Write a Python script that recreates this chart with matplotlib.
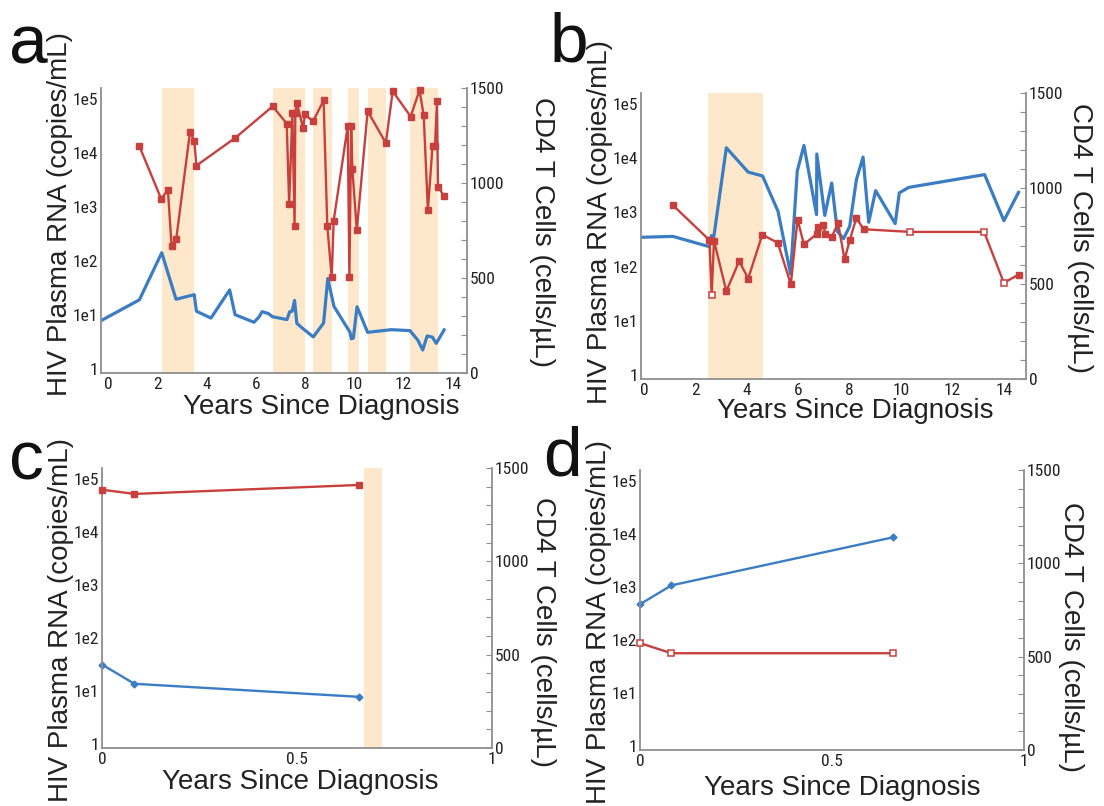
import os
import matplotlib
matplotlib.use("Agg")
import matplotlib.pyplot as plt
from matplotlib import font_manager as fm
from matplotlib.ticker import FixedLocator, FixedFormatter, MultipleLocator, NullLocator

plt.rcParams['font.family'] = ['Liberation Sans', 'DejaVu Sans']

RED = "#C8403D"
BLUE = "#3B7DC4"
SHADE = "#FDE8CB"
GREY = "#8F8F8F"

# ---------------- Panel a ----------------
a_rna_years = [1.25, 2.15, 2.42, 2.57, 2.76, 3.32, 3.49, 3.58, 5.15, 6.68,
               7.25, 7.35, 7.48, 7.57, 7.60, 7.66, 7.92, 7.99, 8.32, 8.75,
               8.90, 9.08, 9.16, 9.73, 9.80, 9.87, 9.92, 10.10, 10.54, 11.28,
               11.56, 12.29, 12.65, 12.82, 12.99, 13.18, 13.28, 13.36, 13.40, 13.65]
a_rna = [13800, 1410, 2090, 190, 257, 25100, 17000, 5890, 19100, 74100,
         35500, 1150, 55000, 447, 55000, 87100, 28800, 52500, 38900, 95500,
         447, 50, 562, 31600, 50, 31600, 5010, 372, 60300, 15500,
         141000, 47900, 148000, 50100, 891, 13800, 13800, 91200, 2400, 1580]
a_cd4_years = [-0.35, 1.26, 2.17, 2.75, 3.49, 3.58, 4.17, 4.93, 5.15, 5.92,
               6.13, 6.25, 6.50, 6.68, 7.26, 7.37, 7.47, 7.57, 7.66, 7.85,
               8.33, 8.75, 8.92, 9.17, 9.82, 9.88, 9.96, 10.11, 10.54, 11.50,
               12.26, 12.58, 12.78, 12.96, 13.17, 13.33, 13.65]
a_cd4 = [272, 385, 633, 388, 412, 325, 289, 437, 307, 267,
         296, 323, 313, 296, 281, 322, 325, 382, 262, 240,
         190, 263, 498, 351, 215, 180, 184, 349, 214, 228,
         223, 173, 121, 195, 189, 156, 227]
a_shade_start = [2.18, 6.70, 8.32, 9.76, 10.55, 12.28]
a_shade_end = [3.50, 8.00, 9.08, 10.18, 11.28, 13.39]
a_hollow = [False] * len(a_rna)

# ---------------- Panel b ----------------
b_rna_years = [1.13, 2.54, 2.63, 2.72, 3.20, 3.70, 4.05, 4.60, 5.20, 5.71,
               5.97, 6.22, 6.71, 6.75, 6.98, 7.05, 7.30, 7.55, 7.80, 8.01,
               8.26, 8.54, 10.36, 13.23, 14.00, 14.57]
b_rna = [1350, 309, 30, 302, 35, 126, 60, 389, 275, 47,
         741, 257, 398, 537, 575, 398, 355, 631, 135, 316,
         794, 490, 437, 437, 50, 71]
b_hollow = [False, False, True, False, False, False, False, False, False, False,
            False, False, False, False, False, False, False, False, False, False,
            False, False, True, True, True, False]
b_cd4_years = [-0.15, 1.12, 2.54, 2.62, 2.67, 2.72, 3.20, 4.05, 4.61, 5.21,
               5.70, 5.96, 6.22, 6.71, 6.72, 7.03, 7.30, 7.52, 7.76, 8.00,
               8.26, 8.52, 8.74, 9.01, 9.77, 9.93, 10.30, 13.25, 14.00, 14.57]
b_cd4 = [743, 748, 694, 752, 718, 752, 1213, 1085, 1065, 880,
         550, 1091, 1225, 862, 1180, 858, 1028, 774, 736, 801,
         1045, 1164, 822, 988, 815, 976, 1005, 1072, 830, 979]
b_shade_start = [2.50]
b_shade_end = [4.62]

# ---------------- Panel c ----------------
c_rna_years = [0.0, 0.083, 0.66]
c_rna = [63100, 52500, 77600]
c_hollow = [False, False, False]
c_cd4_years = [0.0, 0.083, 0.66]
c_cd4 = [447, 344, 274]
c_shade_start = [0.671]
c_shade_end = [0.719]

# ---------------- Panel d ----------------
d_rna_years = [0.0, 0.082, 0.66]
d_rna = [87, 56, 56]
d_hollow = [True, True, True]
d_cd4_years = [0.0, 0.082, 0.66]
d_cd4 = [781, 882, 1140]
d_shade_start = []
d_shade_end = []

long_xticks = [0, 2, 4, 6, 8, 10, 12, 14]
long_xticklabels = ["0", "2", "4", "6", "8", "10", "12", "14"]
short_xticks = [0, 0.5, 1]
short_xticklabels = ["0", "0.5", "1"]
rna_ticks = [1, 10, 100, 1000, 10000, 100000]
rna_ticklabels = ["1", "1e1", "1e2", "1e3", "1e4", "1e5"]
cd4_ticks = [0, 500, 1000, 1500]
cd4_ticklabels = ["0", "500", "1000", "1500"]

W, H = 1104, 806
fig = plt.figure(figsize=(W / 100, H / 100), dpi=100)

LABEL_FS = 20
TICK_FS = 12.5
LETTER_FS = 50


def narrow_font_path():
    wanted = ['liberationsansnarrow-regular', 'arialn', 'robotocondensed-regular',
              'roboto_condensed-regular', 'dejavusanscondensed.', 'notosans-condensed.',
              'notosans-semicondensed.', 'opensans_condensed-regular',
              'opensans-condensedregular', 'opensans_semicondensed-regular']
    try:
        paths = fm.findSystemFonts()
    except Exception:
        paths = []
    paths += [f.fname for f in fm.fontManager.ttflist]
    low = [(os.path.basename(p).lower(), p) for p in paths]
    for w in wanted:
        for b, p in low:
            if b.startswith(w):
                return p
    return None


NARROW = narrow_font_path()


def tick_props():
    if NARROW:
        return fm.FontProperties(fname=NARROW, size=TICK_FS)
    return fm.FontProperties(family=['Liberation Sans', 'DejaVu Sans'], size=TICK_FS - 1)


def px_rect(left, top, right, bottom):
    return [left / W, 1 - bottom / H, (right - left) / W, (bottom - top) / H]


def panel(rect, xlim, xticks, xticklabels, rna_x, rna_y, hollow, cd4_x, cd4_y,
          sh0, sh1, short, letter, letter_xy, ylab_xy, rlab_xy, xlab_xy):
    ax = fig.add_axes(px_rect(*rect))
    ax2 = ax.twinx()
    ax.set_zorder(ax2.get_zorder() + 1)
    ax.patch.set_visible(False)

    for s, e in zip(sh0, sh1):
        ax2.axvspan(s, e, color=SHADE, lw=0, zorder=0)

    lw_b = 1.7 if short else 2.3
    lw_r = 1.7
    if short:
        ax2.plot(cd4_x, cd4_y, color=BLUE, lw=lw_b, marker='D', ms=3.5,
                 zorder=3, clip_on=False)
    else:
        ax2.plot(cd4_x, cd4_y, color=BLUE, lw=lw_b, zorder=3)

    ax.plot(rna_x, rna_y, color=RED, lw=lw_r, zorder=3, clip_on=False)
    fx = [x for x, h in zip(rna_x, hollow) if not h]
    fy = [y for y, h in zip(rna_y, hollow) if not h]
    hx = [x for x, h in zip(rna_x, hollow) if h]
    hy = [y for y, h in zip(rna_y, hollow) if h]
    ms = 5.0
    if fx:
        ax.plot(fx, fy, ls='none', marker='s', ms=ms, mfc=RED, mec=RED,
                zorder=4, clip_on=False)
    if hx:
        ax.plot(hx, hy, ls='none', marker='s', ms=ms - 0.5, mfc='white', mec=RED,
                mew=1.1, zorder=4, clip_on=False)

    ax.set_xlim(*xlim)
    ax.set_yscale('log')
    ax.set_ylim(10 ** -0.08, 10 ** 5.21)
    ax2.set_ylim(0, 1500)

    ax.xaxis.set_major_locator(FixedLocator(xticks))
    ax.xaxis.set_major_formatter(FixedFormatter(xticklabels))
    ax.yaxis.set_major_locator(FixedLocator(rna_ticks))
    ax.yaxis.set_major_formatter(FixedFormatter(rna_ticklabels))
    ax.yaxis.set_minor_locator(NullLocator())
    ax2.yaxis.set_major_locator(FixedLocator(cd4_ticks))
    ax2.yaxis.set_major_formatter(FixedFormatter(cd4_ticklabels))
    ax2.yaxis.set_minor_locator(MultipleLocator(100))

    ax.tick_params(axis='both', which='both', length=0, pad=2, labelcolor='#222222')
    ax.tick_params(axis='x', pad=3)
    ax2.tick_params(axis='y', which='both', direction='in', length=4, width=0.8,
                    color=GREY, pad=2, labelcolor='#222222')
    for t in ax.get_xticklabels() + ax.get_yticklabels() + ax2.get_yticklabels():
        t.set_fontproperties(tick_props())

    for sp in ['top', 'right']:
        ax.spines[sp].set_visible(False)
    for sp in ['top', 'left', 'bottom']:
        ax2.spines[sp].set_visible(False)
    for sp in ['left', 'bottom']:
        ax.spines[sp].set_color(GREY)
        ax.spines[sp].set_linewidth(1.3)
    ax2.spines['right'].set_color(GREY)
    ax2.spines['right'].set_linewidth(1.3)

    fig.text(letter_xy[0] / W, 1 - letter_xy[1] / H, letter, fontsize=LETTER_FS,
             ha='center', va='center', color='#111111')
    fig.text(ylab_xy[0] / W, 1 - ylab_xy[1] / H, "HIV Plasma RNA (copies/mL)",
             rotation=90, fontsize=LABEL_FS, ha='center', va='center', color='#222222')
    fig.text(rlab_xy[0] / W, 1 - rlab_xy[1] / H, "CD4 T Cells (cells/µL)",
             rotation=270, fontsize=LABEL_FS, ha='center', va='center', color='#222222')
    fig.text(xlab_xy[0] / W, 1 - xlab_xy[1] / H, "Years Since Diagnosis",
             fontsize=LABEL_FS, ha='center', va='center', color='#222222')


panel((101, 88, 467, 373), (-0.30, 14.58), long_xticks, long_xticklabels,
      a_rna_years, a_rna, a_hollow, a_cd4_years, a_cd4,
      a_shade_start, a_shade_end, False, "a", (28, 46), (60, 214), (542, 232), (321, 407))
panel((641, 93, 1026, 379), (-0.12, 14.86), long_xticks, long_xticklabels,
      b_rna_years, b_rna, b_hollow, b_cd4_years, b_cd4,
      b_shade_start, b_shade_end, False, "b", (569, 43), (600, 222), (1080, 238), (855, 411))
panel((102, 468, 492, 748), (0, 1.0), short_xticks, short_xticklabels,
      c_rna_years, c_rna, c_hollow, c_cd4_years, c_cd4,
      c_shade_start, c_shade_end, True, "c", (26, 461), (61, 620), (543, 632), (300, 782))
panel((640, 470, 1024, 750), (0, 1.0), short_xticks, short_xticklabels,
      d_rna_years, d_rna, d_hollow, d_cd4_years, d_cd4,
      d_shade_start, d_shade_end, True, "d", (562, 457), (599, 622), (1071, 637), (842, 788))

fig.savefig("out.png", dpi=100)
